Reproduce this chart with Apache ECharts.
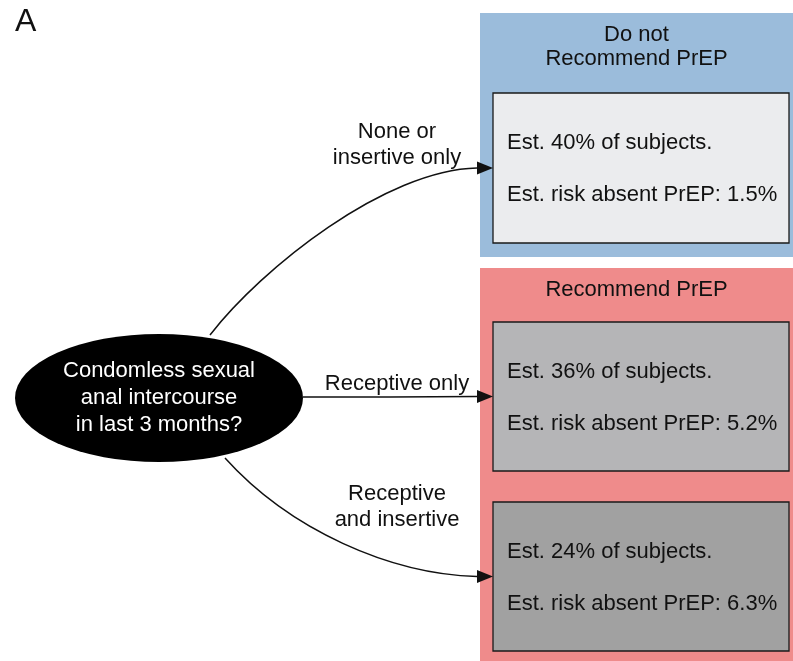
<!DOCTYPE html>
<html>
<head>
<meta charset="utf-8">
<script src="https://cdn.jsdelivr.net/npm/echarts@6/dist/echarts.min.js"></script>
<style>
html, body { margin: 0; padding: 0; background: #fff; }
#main { width: 793px; height: 661px; }
</style>
</head>
<body>
<div id="main"></div>
<script>
// chart content
var question = 'Condomless sexual\nanal intercourse\nin last 3 months?';
var answers = ['None or\ninsertive only', 'Receptive only', 'Receptive\nand insertive'];
var subjectShare = [40, 36, 24];
var riskAbsentPrEP = [1.5, 5.2, 6.3];
var groups = ['Do not\nRecommend PrEP', 'Recommend PrEP'];

// layout (pixels of the 793x661 canvas)
var W = 793, H = 661;
var groupBox = [[480, 13, 793, 257], [480, 268, 793, 661]];
var groupTitleY = [47, 290];
var groupColor = ['#9bbcdb', '#ef8b8b'];
var outBox = [[493, 93, 789, 243], [493, 322, 789, 471], [493, 502, 789, 651]];
var outFill = ['#ebecee', '#b5b5b7', '#a1a1a1'];
var ell = { cx: 159, cy: 398, rx: 144, ry: 64 };
// edge start, control points (cubic), label centre
var edgeGeom = [
    { p0: [210, 335], c1: [262, 268], c2: [385, 170], label: [397, 145] },
    { p0: [303, 397], c1: [360, 397], c2: [420, 397], label: [397, 384] },
    { p0: [225, 458], c1: [290, 530], c2: [390, 574], label: [397, 507] }
];
var FONT = 'Liberation Sans, Arial, sans-serif';
var FS = 22;

var myChart = echarts.init(document.getElementById('main'));

function px(api, x, y) { return api.coord([x, y]); }

var option = {
    animation: false,
    title: {
        text: 'A', left: 10, top: 1,
        textStyle: { fontFamily: FONT, fontSize: 32, fontWeight: 'normal', color: '#111' }
    },
    grid: { left: 0, right: 0, top: 0, bottom: 0 },
    xAxis: { type: 'value', min: 0, max: W, show: false },
    yAxis: { type: 'value', min: 0, max: H, inverse: true, show: false },
    series: [
        {   // recommendation panels
            type: 'custom', coordinateSystem: 'cartesian2d', silent: true,
            data: groups.map(function (g, i) { return [i]; }),
            renderItem: function (params, api) {
                var i = params.dataIndex, b = groupBox[i];
                var a = px(api, b[0], b[1]), c = px(api, b[2], b[3]);
                return { type: 'group', children: [
                    { type: 'rect', shape: { x: a[0], y: a[1], width: c[0] - a[0], height: c[1] - a[1] },
                      style: { fill: groupColor[i] } },
                    { type: 'text', x: (a[0] + c[0]) / 2, y: px(api, 0, groupTitleY[i])[1],
                      style: { text: groups[i], fill: '#111', font: FS + 'px ' + FONT, lineHeight: 24,
                               textAlign: 'center', textVerticalAlign: 'middle' } }
                ] };
            }
        },
        {   // outcome boxes
            type: 'custom', coordinateSystem: 'cartesian2d', silent: true,
            data: subjectShare.map(function (v, i) { return [v, riskAbsentPrEP[i]]; }),
            renderItem: function (params, api) {
                var i = params.dataIndex, b = outBox[i];
                var a = px(api, b[0], b[1]), c = px(api, b[2], b[3]);
                var mid = (a[1] + c[1]) / 2;
                return { type: 'group', children: [
                    { type: 'rect', shape: { x: a[0], y: a[1], width: c[0] - a[0], height: c[1] - a[1] },
                      style: { fill: outFill[i], stroke: '#1a1a1a', lineWidth: 1.3 } },
                    { type: 'text', x: a[0] + 14, y: mid - 25,
                      style: { text: 'Est. ' + api.value(0) + '% of subjects.', fill: '#111', font: FS + 'px ' + FONT,
                               textAlign: 'left', textVerticalAlign: 'middle' } },
                    { type: 'text', x: a[0] + 14, y: mid + 27,
                      style: { text: 'Est. risk absent PrEP: ' + api.value(1).toFixed(1) + '%', fill: '#111',
                               font: FS + 'px ' + FONT, textAlign: 'left', textVerticalAlign: 'middle' } }
                ] };
            }
        },
        {   // edges with arrows and answer labels
            type: 'custom', coordinateSystem: 'cartesian2d', silent: true,
            data: answers.map(function (t, i) { return [i]; }),
            renderItem: function (params, api) {
                var i = params.dataIndex, g = edgeGeom[i], b = outBox[i];
                var tipY = (b[1] + b[3]) / 2;
                var tip = px(api, b[0], tipY), base = px(api, b[0] - 16, tipY);
                var p0 = px(api, g.p0[0], g.p0[1]), c1 = px(api, g.c1[0], g.c1[1]), c2 = px(api, g.c2[0], g.c2[1]);
                var lab = px(api, g.label[0], g.label[1]);
                return { type: 'group', children: [
                    { type: 'bezierCurve',
                      shape: { x1: p0[0], y1: p0[1], cpx1: c1[0], cpy1: c1[1], cpx2: c2[0], cpy2: c2[1], x2: base[0], y2: base[1] },
                      style: { stroke: '#111', lineWidth: 1.5, fill: null } },
                    { type: 'polygon', shape: { points: [tip, [base[0], base[1] - 6.5], [base[0], base[1] + 6.5]] },
                      style: { fill: '#111' } },
                    { type: 'text', x: lab[0], y: lab[1],
                      style: { text: answers[i], fill: '#111', font: FS + 'px ' + FONT, lineHeight: 26,
                               textAlign: 'center', textVerticalAlign: 'middle' } }
                ] };
            }
        },
        {   // question node
            type: 'custom', coordinateSystem: 'cartesian2d', silent: true,
            data: [[0]],
            renderItem: function (params, api) {
                var c = px(api, ell.cx, ell.cy);
                return { type: 'group', children: [
                    { type: 'circle', x: c[0], y: c[1], scaleX: ell.rx / ell.ry,
                      shape: { cx: 0, cy: 0, r: ell.ry }, style: { fill: '#000' } },
                    { type: 'text', x: c[0], y: c[1],
                      style: { text: question, fill: '#fff', font: FS + 'px ' + FONT, lineHeight: 27,
                               textAlign: 'center', textVerticalAlign: 'middle' } }
                ] };
            }
        }
    ]
};

myChart.setOption(option);
</script>
</body>
</html>
